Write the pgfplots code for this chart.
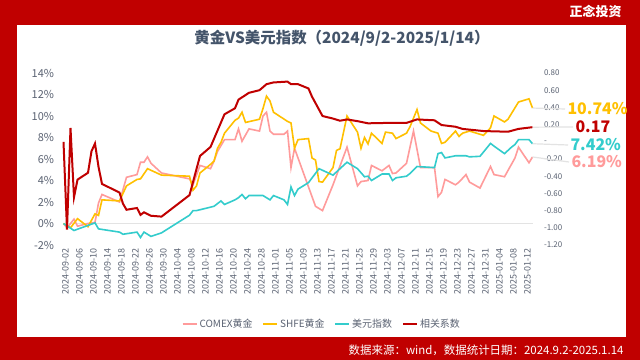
\documentclass[border=0pt]{standalone}
\usepackage{fontspec}
\setmainfont{Noto Sans CJK SC}
\usepackage{pgfplots}
\pgfplotsset{compat=1.18}
\definecolor{cred}{HTML}{C00000}
\definecolor{cpink}{HTML}{FF9B9B}
\definecolor{cgold}{HTML}{FFC000}
\definecolor{cteal}{HTML}{33CCCC}
\definecolor{ctitle}{HTML}{44546A}
\definecolor{ctick}{HTML}{5A6272}
\definecolor{cgrid}{HTML}{E3E3E3}
\begin{document}
\begin{tikzpicture}
\useasboundingbox (0,0) rectangle (640bp,360bp);
\fill[cred] (0,0) rectangle (640bp,360bp);
\fill[white] (17bp,23bp) rectangle (626bp,335bp);
\node[anchor=east, text=white, font=\bfseries\fontsize{13}{13}\selectfont] at (625bp,349bp) {正念投资};
\node[text=ctitle, font=\bfseries\fontsize{15.5}{15.5}\selectfont] at (342bp,322bp) {黄金VS美元指数（2024/9/2-2025/1/14）};
\node[anchor=east, text=white, font=\fontsize{11.5}{11.5}\selectfont] at (627bp,10bp) {数据来源：wind，数据统计日期：2024.9.2-2025.1.14};

\begin{axis}[
  at={(63.5bp,115bp)}, anchor=south west, scale only axis,
  width=469bp, height=172bp,
  xmin=0, xmax=134, ymin=-2, ymax=14,
  axis line style={draw=none}, major tick length=0pt,
  clip=false,
  /pgf/number format/assume math mode=true,
  xtick={0,4,...,132},
  xticklabels={2024-09-02,2024-09-06,2024-09-10,2024-09-14,2024-09-18,2024-09-22,2024-09-26,2024-09-30,2024-10-04,2024-10-08,2024-10-12,2024-10-16,2024-10-20,2024-10-24,2024-10-28,2024-11-01,2024-11-05,2024-11-09,2024-11-13,2024-11-17,2024-11-21,2024-11-25,2024-11-29,2024-12-03,2024-12-07,2024-12-11,2024-12-15,2024-12-19,2024-12-23,2024-12-27,2024-12-31,2025-01-04,2025-01-08,2025-01-12},
  xticklabel style={rotate=90, anchor=east, font=\fontsize{9}{9}\selectfont, text=ctick, yshift=-2bp},
  ytick={-2,0,2,4,6,8,10,12,14},
  yticklabel={\pgfmathprintnumber{\tick}\%},
  yticklabel style={font=\fontsize{11}{11}\selectfont, text=ctick, xshift=-6bp},
  legend columns=4,
  legend style={at={(0.551,-0.459)}, anchor=center, draw=none, fill=none,
    font=\fontsize{10}{10}\selectfont, text=ctick,
    /tikz/every even column/.append style={column sep=8bp}},
  legend image code/.code={\draw[#1] (0bp,0bp) -- (14bp,0bp);},
]
\draw[cgrid, line width=1bp] (axis cs:0,0) -- (axis cs:134,0);
\addplot[cpink, line width=1.6bp] coordinates {
(0,0) (1,-0.4) (3,0.4) (4,-0.25) (7,0) (9,0.1) (10,1.9) (11,2.7) (16,2.0) (18,4.3) (21,4.55) (22,5.7) (23,5.7) (24,6.2) (25,5.6) (28,4.7) (36,4.15) (37,3.6) (39,5.4) (42,5.1) (43,5.8) (44,6.7) (46,7.8) (49,7.8) (50,8.8) (51,7.65) (53,8.8) (56,8.6) (57,10.0) (58,10.35) (59,8.6) (60,8.3) (63,8.3) (64,8.6) (65,5.2) (66,7.0) (72,1.6) (74,1.2) (77,3.6) (81,7.1) (84,3.5) (85,3.9) (87,4.0) (88,5.4) (91,4.9) (93,5.4) (94,4.65) (95,4.7) (98,5.6) (100,8.6) (102,5.2) (106,5.2) (107,2.5) (108,2.9) (109,4.1) (112,3.6) (113,3.85) (115,4.55) (116,3.85) (119,3.3) (122,5.3) (123,4.55) (126,4.35) (129,6.1) (130,7.1) (133,5.65) (134,6.19)};
\addlegendentry{COMEX黄金}
\addplot[cgold, line width=1.6bp] coordinates {
(0,0) (2,-0.4) (4,0.45) (7,-0.3) (9,0.9) (10,0.75) (11,2.2) (16,2.1) (18,3.5) (21,4.1) (22,4.15) (24,5.1) (28,4.5) (36,4.4) (37,3.1) (38,3.5) (39,4.7) (42,5.5) (43,5.8) (44,7.0) (45,7.55) (46,8.4) (49,9.6) (50,9.8) (51,10.35) (52,9.4) (56,9.7) (57,10.7) (58,11.85) (59,11.4) (60,10.35) (64,9.5) (65,9.35) (66,7.0) (67,7.8) (70,7.9) (71,6.1) (72,5.9) (73,3.9) (74,3.85) (77,5.2) (78,6.8) (79,6.95) (81,10.0) (84,8.5) (85,7.0) (86,8.0) (87,7.4) (88,8.4) (91,7.45) (92,8.5) (94,8.4) (95,7.9) (98,8.4) (99,9.0) (101,10.6) (102,9.35) (105,8.6) (107,8.4) (108,7.45) (109,7.55) (112,8.6) (113,8.1) (114,8.4) (116,8.6) (120,8.2) (122,8.9) (123,10.0) (126,9.45) (127,9.7) (130,11.3) (133,11.6) (134,10.74)};
\addlegendentry{SHFE黄金}
\addplot[cteal, line width=1.6bp] coordinates {
(0,0) (3,-0.65) (9,0.06) (10,-0.5) (16,-0.8) (17,-1.0) (21,-0.8) (22,-1.3) (23,-0.8) (25,-1.2) (28,-0.87) (36,0.77) (37,1.2) (38,1.2) (43,1.6) (45,2.1) (46,1.77) (49,2.2) (50,2.4) (51,2.7) (52,2.3) (53,2.6) (57,2.6) (59,2.2) (60,2.6) (63,2.2) (64,1.77) (65,3.4) (66,2.6) (67,3.2) (70,3.8) (73,5.1) (77,4.5) (81,5.7) (84,5.1) (86,4.35) (87,4.4) (88,4.0) (91,4.6) (93,4.6) (94,4.0) (95,4.25) (98,4.4) (99,4.65) (101,5.3) (106,5.2) (107,6.5) (108,6.6) (109,6.1) (112,6.3) (115,6.3) (116,6.2) (119,6.25) (122,7.45) (123,7.2) (126,6.5) (128,7.1) (129,7.35) (130,7.8) (133,7.8) (134,7.42)};
\addlegendentry{美元指数}
\addlegendimage{cred, line width=2bp}
\addlegendentry{相关系数}
\coordinate (eG) at (axis cs:134,10.74);
\coordinate (eT) at (axis cs:134,7.42);
\coordinate (eP) at (axis cs:134,6.19);
\end{axis}

\begin{axis}[
  at={(63.5bp,115bp)}, anchor=south west, scale only axis,
  width=469bp, height=172bp,
  xmin=0, xmax=134, ymin=-1.2, ymax=0.8,
  hide x axis, axis y line*=right,
  axis line style={draw=none}, major tick length=0pt,
  clip=false,
  ytick={-1.2,-1,-0.8,-0.6,-0.4,-0.2,0,0.2,0.4,0.6,0.8},
  yticklabels={-1.20,-1.00,-0.80,-0.60,-0.40,-0.20,-,0.20,0.40,0.60,0.80},
  yticklabel style={anchor=west, font=\fontsize{8}{8}\selectfont, text=ctick, xshift=8bp},
]
\addplot[cred, line width=2bp] coordinates {
(0,0.0) (1,-1.02) (2,0.16) (3,-0.645) (4,-0.44) (7,-0.36) (8,-0.11) (9,-0.02) (10,-0.29) (11,-0.49) (16,-0.59) (17,-0.72) (18,-0.79) (21,-0.77) (22,-0.85) (23,-0.82) (25,-0.86) (28,-0.87) (36,-0.62) (39,-0.165) (42,-0.06) (46,0.32) (49,0.39) (50,0.49) (53,0.57) (56,0.60) (58,0.67) (60,0.69) (64,0.70) (65,0.67) (67,0.67) (70,0.62) (71,0.525) (74,0.30) (77,0.27) (79,0.245) (81,0.26) (84,0.24) (87,0.215) (93,0.22) (98,0.22) (101,0.26) (106,0.25) (108,0.195) (112,0.175) (114,0.15) (120,0.125) (127,0.117) (130,0.15) (134,0.17)};
\coordinate (eR) at (axis cs:134,0.17);
\end{axis}

\draw[cgrid, line width=1.2bp] (eG) -- (565bp,251bp);
\draw[cgrid, line width=1.2bp] (eR) -- (573bp,233bp);
\draw[cgrid, line width=1.2bp] (eT) -- (568bp,215bp);
\draw[cgrid, line width=1.2bp] (eP) -- (569bp,198bp);
\node[anchor=west, text=cgold, font=\bfseries\fontsize{16}{16}\selectfont] at (564bp,251bp) {10.74\%};
\node[anchor=west, text=cred, font=\bfseries\fontsize{16}{16}\selectfont] at (572bp,233bp) {0.17};
\node[anchor=west, text=cteal, font=\bfseries\fontsize{16}{16}\selectfont] at (567bp,215bp) {7.42\%};
\node[anchor=west, text=cpink, font=\bfseries\fontsize{16}{16}\selectfont] at (568bp,198bp) {6.19\%};
\end{tikzpicture}
\end{document}
